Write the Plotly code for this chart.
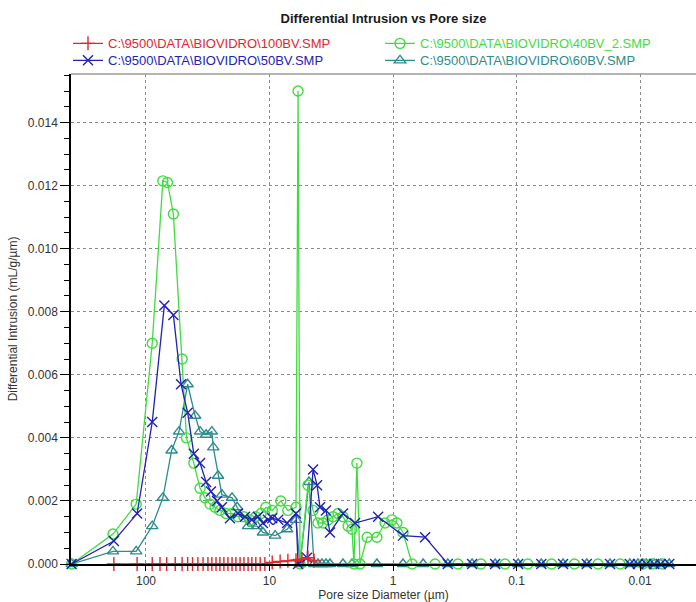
import plotly.graph_objects as go

# ---- data (pore diameter in µm, differential intrusion in mL/g/µm) ----
name_100bv = r"C:\9500\DATA\BIOVIDRO\100BV.SMP"
name_40bv = r"C:\9500\DATA\BIOVIDRO\40BV_2.SMP"
name_50bv = r"C:\9500\DATA\BIOVIDRO\50BV.SMP"
name_60bv = r"C:\9500\DATA\BIOVIDRO\60BV.SMP"

x_100bv = [182, 118, 89, 77, 68, 58, 51, 46, 42, 38, 34.5, 31.5, 29.3, 27.1, 25.2, 23.4,
           21.7, 20.1, 18.7, 17.3, 16.1, 14.9, 13.9, 12.9, 11.9, 10.9, 9.5, 8.2, 7.1, 6.1,
           5.46, 4.88, 4.36]
y_100bv = [0, 0, 0, 0, 0, 0, 0, 0, 0, 0, 0, 0, 0, 0, 0, 0,
           0, 0, 0, 0, 0, 0, 0, 0, 0, 0, 0.00005, 0.00008, 0.0001, 0.00012,
           0.00015, 0.0002, 0.0001]

x_40bv = [400, 185, 120, 89, 73, 67, 60, 51, 47, 41,
          36.5, 33.3, 30.3, 27.6, 25.2, 22.5, 20.1, 18.0, 16.1, 14.4,
          12.9, 11.7, 10.7, 9.5, 8.1, 7.1, 6.1, 5.87, 5.66, 4.88,
          4.44, 4.05, 3.69, 3.36, 3.06, 2.79, 2.54, 2.31, 2.15, 2.07,
          1.96, 1.85, 1.62, 1.35, 1.16, 1.02, 0.93, 0.83, 0.70, 0.457,
          0.298, 0.194, 0.124, 0.081, 0.052, 0.034, 0.0219, 0.0145, 0.0095, 0.0080,
          0.0066]
y_40bv = [0, 0.00095, 0.0019, 0.0070, 0.01215, 0.0121, 0.0111, 0.0065, 0.0040, 0.0032,
          0.0024, 0.0021, 0.0019, 0.0018, 0.0017, 0.0016, 0.0016, 0.0015, 0.0015, 0.0014,
          0.0015, 0.0016, 0.0018, 0.0017, 0.0020, 0.0017, 0.0018, 0.0150, 0, 0.0025,
          0.0017, 0.0013, 0.0013, 0.0014, 0.0015, 0.0016, 0.0015, 0.0012, 0.0011, 0,
          0.0032, 0, 0.00085, 0.00085, 0.0013, 0.0014, 0.0013, 0.0010, 0, 0,
          0, 0, 0, 0, 0, 0, 0, 0, 0, 0,
          0]

x_50bv = [400, 182, 118, 89, 71, 60, 52, 46, 41, 36.5,
          32.6, 29.8, 26.6, 24.3, 20.9, 18.0, 15.8, 13.9, 12.4, 11.3,
          10.3, 9.5, 8.5, 7.2, 6.1, 5.87, 4.97, 4.44, 4.12, 3.90,
          3.49, 3.24, 2.54, 2.03, 1.32, 0.83, 0.55, 0.36, 0.229, 0.149,
          0.097, 0.063, 0.042, 0.027, 0.0175, 0.0121, 0.0104, 0.0089, 0.0077, 0.0068,
          0.0058]
y_50bv = [0, 0.00073, 0.0016, 0.0045, 0.0082, 0.0079, 0.0057, 0.0048, 0.0035, 0.0032,
          0.0026, 0.0023, 0.0020, 0.0018, 0.00145, 0.0016, 0.0015, 0.0014, 0.0015, 0.0013,
          0.0014, 0.00145, 0.0014, 0.0013, 0.0016, 0, 0.0002, 0.0030, 0.0025, 0.0018,
          0.0017, 0.0010, 0.0016, 0.0013, 0.0015, 0.0009, 0.00085, 0, 0, 0,
          0, 0, 0, 0, 0, 0, 0, 0, 0, 0,
          0]

x_60bv = [400, 185, 120, 89, 73, 62, 54, 46, 40, 36.5,
          32.6, 29.3, 28.5, 26.1, 24.3, 20.1, 18.3, 14.9, 12.6, 11.3,
          9.0, 7.2, 6.1, 5.66, 4.79, 4.36, 4.05, 3.76, 3.49, 3.24,
          2.54, 2.15, 1.35, 0.83, 0.57, 0.36, 0.229, 0.149, 0.097, 0.063,
          0.042, 0.027, 0.0175, 0.0121, 0.0104, 0.0089, 0.0077, 0.0068, 0.0058]
y_60bv = [0, 0.0004, 0.0004, 0.0012, 0.0021, 0.0036, 0.0042, 0.0057, 0.0047, 0.0042,
          0.0041, 0.0042, 0.0037, 0.0028, 0.0022, 0.0021, 0.0018, 0.0012, 0.0012, 0.0010,
          0.0009, 0.0011, 0.0014, 0, 0.0026, 0, 0, 0, 0, 0,
          0, 0, 0, 0, 0, 0, 0, 0, 0, 0,
          0, 0, 0, 0, 0, 0, 0, 0, 0]

x_tickvals = [100, 10, 1, 0.1, 0.01]
x_ticktext = ["100", "10", "1", "0.1", "0.01"]

RED = "#e3262b"
GREEN = "#3fdc3f"
BLUE = "#2222b8"
TEAL = "#2e8c8c"

FONT = "Liberation Sans, Arial, sans-serif"

def label(name, color):
    return f'<span style="color:{color}">{name}</span>'

fig = go.Figure()

# drawing order (bottom -> top) with each trace in its own legend slot
series = [
    (x_60bv, y_60bv, name_60bv, TEAL, "triangle-up-open", "legend4"),
    (x_40bv, y_40bv, name_40bv, GREEN, "circle-open", "legend2"),
    (x_50bv, y_50bv, name_50bv, BLUE, "x-thin-open", "legend3"),
    (x_100bv, y_100bv, name_100bv, RED, "cross-thin-open", "legend"),
]
for xs, ys, nm, col, sym, lg in series:
    fig.add_trace(go.Scatter(
        x=xs, y=ys, name=label(nm, col), mode="lines+markers",
        line=dict(color=col, width=1.3),
        marker=dict(symbol=sym, size=10, color=col, line=dict(color=col, width=1.4)),
        cliponaxis=False, legend=lg,
    ))

def leg(xpix, ycenter):
    # convert a pixel anchor to paper coordinates of the plot area
    return dict(x=(xpix - 71) / 625, xanchor="left",
                y=(564 - (ycenter - 13.6)) / 490, yanchor="top",
                orientation="v", font=dict(size=13, family=FONT),
                bgcolor="rgba(0,0,0,0)", itemwidth=30)

fig.update_layout(
    width=696, height=602,
    margin=dict(l=71, r=0, t=74, b=38),
    paper_bgcolor="white", plot_bgcolor="white",
    font=dict(family=FONT, size=12, color="#333333"),
    title=dict(text="<b>Differential Intrusion vs Pore size</b>",
               x=0.5, xref="paper", xanchor="center",
               y=1 - 18 / 602, yref="container", yanchor="middle",
               font=dict(size=13, color="#1a1a1a")),
    showlegend=True,
    legend=leg(68, 42),
    legend2=leg(380, 42),
    legend3=leg(68, 59),
    legend4=leg(380, 59),
    xaxis=dict(type="log", range=[2.607, -2.453],
               tickvals=x_tickvals, ticktext=x_ticktext,
               ticks="outside", ticklen=5, tickcolor="#000", tickwidth=1,
               showline=True, linecolor="#000", linewidth=1.5,
               showgrid=True, gridcolor="#8a8a8a", griddash="dot", gridwidth=1,
               zeroline=False,
               title=dict(text="Pore size Diameter (µm)", standoff=4,
                          font=dict(size=12, color="#333333")),
               tickfont=dict(size=12, color="#333333")),
    yaxis=dict(range=[0, 0.01554], dtick=0.002, tick0=0, tickformat=".3f",
               ticks="outside", ticklen=9, tickcolor="#000", tickwidth=1,
               minor=dict(dtick=0.0005, ticks="outside", ticklen=5,
                          tickcolor="#000", showgrid=False),
               showline=True, linecolor="#000", linewidth=1.5,
               showgrid=True, gridcolor="#8a8a8a", griddash="dot", gridwidth=1,
               zeroline=False,
               title=dict(text="Differential Intrusion (mL/g/µm)", standoff=8,
                          font=dict(size=12, color="#333333")),
               tickfont=dict(size=12, color="#333333")),
    shapes=[dict(type="line", xref="paper", yref="paper", x0=0, x1=1, y0=1, y1=1,
                 line=dict(color="#9a9a9a", width=1.5))],
)

fig.write_html("out.html")
